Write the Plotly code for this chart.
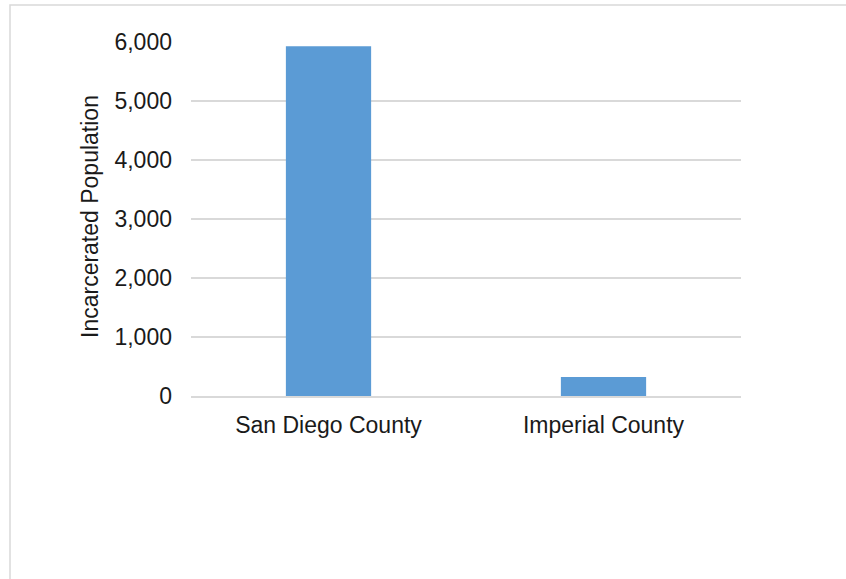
import plotly.graph_objects as go

counties = ["San Diego County", "Imperial County"]
population = [5930, 322]
y_ticks = [0, 1000, 2000, 3000, 4000, 5000, 6000]
y_tick_labels = ["0", "1,000", "2,000", "3,000", "4,000", "5,000", "6,000"]

W, H = 846, 579
L, R, T, B = 191, 105, 42, 183
pw, ph = W - L - R, H - T - B

fig = go.Figure(go.Bar(x=counties, y=population, marker=dict(color="#5b9bd5", line=dict(width=0)),
                       width=0.31))

font = dict(family="Liberation Sans, Arial, sans-serif", size=23, color="#1a1a1a")
fig.update_layout(
    width=W, height=H, margin=dict(l=L, r=R, t=T, b=B, autoexpand=False),
    paper_bgcolor="white", plot_bgcolor="white", font=font, showlegend=False,
    xaxis=dict(showgrid=False, showline=True, linecolor="#d9d9d9", linewidth=1.5,
               ticks="", ticklabelstandoff=8, tickfont=font),
    yaxis=dict(range=[0, 6000], tickvals=y_ticks, ticktext=y_tick_labels,
               showgrid=True, gridcolor="#d9d9d9", gridwidth=1.5, zeroline=False,
               showline=False, ticks="", ticklabelstandoff=18, tickfont=font),
    shapes=[dict(type="rect", xref="paper", yref="paper",
                 x0=(10 - L) / pw, x1=(W + 20 - L) / pw,
                 y0=(H - B - (H + 20)) / ph, y1=(H - B - 5) / ph,
                 line=dict(color="#d9d9d9", width=1.5), layer="below")],
    annotations=[dict(text="Incarcerated Population", textangle=-90, showarrow=False,
                      xref="paper", yref="paper", x=(90 - L) / pw, y=(H - B - 217) / ph,
                      xanchor="center", yanchor="middle", font=font)],
)
fig.write_html("out.html")
